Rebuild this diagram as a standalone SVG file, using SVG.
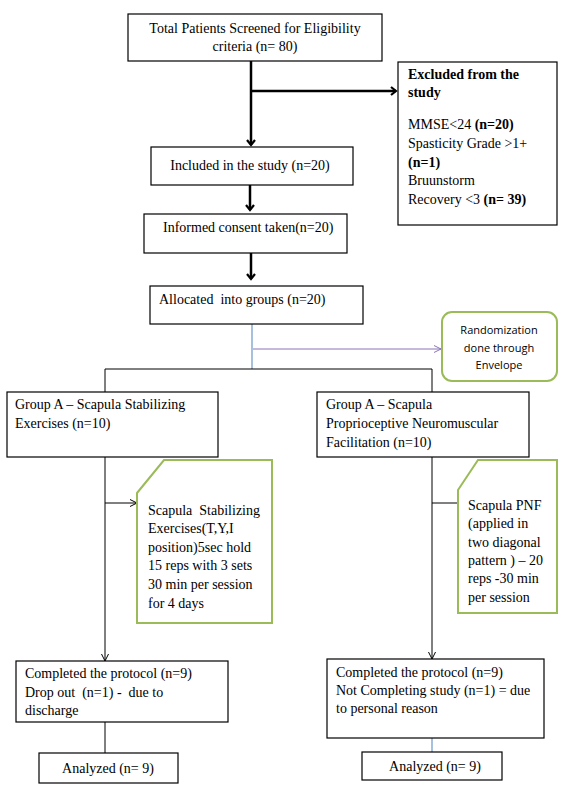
<svg xmlns="http://www.w3.org/2000/svg" width="562" height="790" viewBox="0 0 562 790">
<defs>
<style>
.box{fill:#fff;stroke:#000;stroke-width:1.2}
.note{fill:#fff;stroke:#9BBB59;stroke-width:2}
.t{font-family:"Liberation Serif","Times New Roman",serif;font-size:14px;fill:#000;white-space:pre}
.c{text-anchor:middle}
.b{font-weight:bold}
.s{font-family:"Open Sans","Liberation Sans",sans-serif;font-size:11px;fill:#000;text-anchor:middle}
.thick{stroke:#000;stroke-width:2.5;fill:none}
.thin{stroke:#000;stroke-width:1;fill:none}
</style>
<marker id="ah" markerWidth="10" markerHeight="10" refX="6" refY="5" orient="auto" markerUnits="userSpaceOnUse">
<path d="M1,1 L6,5 L1,9" fill="none" stroke="#000" stroke-width="2.2"/>
</marker>
<marker id="as" markerWidth="10" markerHeight="10" refX="8" refY="5" orient="auto" markerUnits="userSpaceOnUse">
<path d="M1,1.5 L8,5 L1,8.5" fill="none" stroke="#000" stroke-width="1"/>
</marker>
<marker id="ap" markerWidth="10" markerHeight="10" refX="8" refY="5" orient="auto" markerUnits="userSpaceOnUse">
<path d="M1,1.5 L8,5 L1,8.5" fill="none" stroke="#8B74B8" stroke-width="1"/>
</marker>
</defs>
<rect width="562" height="790" fill="#fff"/>

<g id="connectors">
<line class="thick" x1="251" y1="61" x2="251" y2="145" marker-end="url(#ah)"/>
<line class="thick" x1="251" y1="91" x2="396" y2="91" marker-end="url(#ah)"/>
<line class="thick" x1="250" y1="185" x2="250" y2="210" marker-end="url(#ah)"/>
<line class="thick" x1="251" y1="252" x2="251" y2="279" marker-end="url(#ah)"/>
<line x1="252" y1="324" x2="252" y2="369" stroke="#4F81BD" stroke-width="1"/>
<line x1="253" y1="349" x2="441" y2="349" stroke="#8B74B8" stroke-width="1" marker-end="url(#ap)"/>
<polyline class="thin" points="105,392 105,369 432,369 432,392"/>
<line class="thin" x1="105" y1="457" x2="105" y2="661" marker-end="url(#as)"/>
<line class="thin" x1="432" y1="457" x2="432" y2="659" marker-end="url(#as)"/>
<line class="thin" x1="105" y1="503" x2="137" y2="503" marker-end="url(#as)"/>
<line class="thin" x1="432" y1="503" x2="464" y2="503" marker-end="url(#as)"/>
<line class="thin" x1="105" y1="722" x2="105" y2="753"/>
<line x1="432" y1="738" x2="432" y2="752" stroke="#4F81BD" stroke-width="1"/>
</g>

<g id="screened">
<rect class="box" x="128" y="14" width="254" height="47"/>
<text class="t c" x="255" y="33">Total Patients Screened for Eligibility</text>
<text class="t c" x="255" y="51">criteria (n= 80)</text>
</g>

<g id="excluded">
<rect class="box" x="398" y="62" width="159" height="163"/>
<text class="t b" x="408" y="79">Excluded from the</text>
<text class="t b" x="408" y="97">study</text>
<text class="t" x="408" y="129">MMSE&lt;24 <tspan class="b">(n=20)</tspan></text>
<text class="t" x="408" y="148">Spasticity Grade &gt;1+</text>
<text class="t b" x="408" y="167">(n=1)</text>
<text class="t" x="408" y="185">Bruunstorm</text>
<text class="t" x="408" y="204">Recovery &lt;3 <tspan class="b">(n= 39)</tspan></text>
</g>

<g id="included">
<rect class="box" x="151" y="147" width="202" height="38"/>
<text class="t c" x="250" y="170">Included in the study (n=20)</text>
</g>

<g id="consent">
<rect class="box" x="144" y="214" width="203" height="39"/>
<text class="t" x="163" y="232">Informed consent taken(n=20)</text>
</g>

<g id="allocated">
<rect class="box" x="150" y="286" width="213" height="38"/>
<text class="t" x="159" y="304">Allocated  into groups (n=20)</text>
</g>

<g id="randomization">
<rect x="442" y="312" width="115" height="69" rx="10" ry="10" fill="#fff" stroke="#9BBB59" stroke-width="2"/>
<text class="s" x="499" y="334">Randomization</text>
<text class="s" x="499" y="352">done through</text>
<text class="s" x="499" y="369">Envelope</text>
</g>

<g id="groupA-left">
<rect class="box" x="7" y="392" width="211" height="65"/>
<text class="t" x="15" y="409">Group A – Scapula Stabilizing</text>
<text class="t" x="15" y="428">Exercises (n=10)</text>
</g>

<g id="groupA-right">
<rect class="box" x="317" y="392" width="212" height="65"/>
<text class="t" x="326" y="409">Group A – Scapula</text>
<text class="t" x="326" y="428">Proprioceptive Neuromuscular</text>
<text class="t" x="326" y="447">Facilitation (n=10)</text>
</g>

<g id="note-left">
<polygon class="note" points="137,493 164,460 272,460 272,623 137,623"/>
<text class="t" x="148" y="515">Scapula  Stabilizing</text>
<text class="t" x="148" y="533">Exercises(T,Y,I</text>
<text class="t" x="148" y="552">position)5sec hold</text>
<text class="t" x="148" y="570">15 reps with 3 sets</text>
<text class="t" x="148" y="589">30 min per session</text>
<text class="t" x="148" y="608">for 4 days</text>
</g>

<g id="note-right">
<polygon class="note" points="458,490 478,460 557,460 557,613 458,613"/>
<text class="t" x="468" y="510">Scapula PNF</text>
<text class="t" x="468" y="528">(applied in</text>
<text class="t" x="468" y="547">two diagonal</text>
<text class="t" x="468" y="565">pattern ) – 20</text>
<text class="t" x="468" y="583">reps -30 min</text>
<text class="t" x="468" y="602">per session</text>
</g>

<g id="completed-left">
<rect class="box" x="16" y="661" width="212" height="61"/>
<text class="t" x="25" y="678">Completed the protocol (n=9)</text>
<text class="t" x="25" y="697">Drop out  (n=1) -  due to</text>
<text class="t" x="25" y="715">discharge</text>
</g>

<g id="completed-right">
<rect class="box" x="327" y="659" width="217" height="79"/>
<text class="t" x="336" y="677">Completed the protocol (n=9)</text>
<text class="t" x="336" y="695">Not Completing study (n=1) = due</text>
<text class="t" x="336" y="713">to personal reason</text>
</g>

<g id="analyzed-left">
<rect class="box" x="39" y="753" width="139" height="30"/>
<text class="t c" x="108" y="773">Analyzed (n= 9)</text>
</g>

<g id="analyzed-right">
<rect class="box" x="362" y="752" width="140" height="28"/>
<text class="t c" x="435" y="771">Analyzed (n= 9)</text>
</g>
</svg>
